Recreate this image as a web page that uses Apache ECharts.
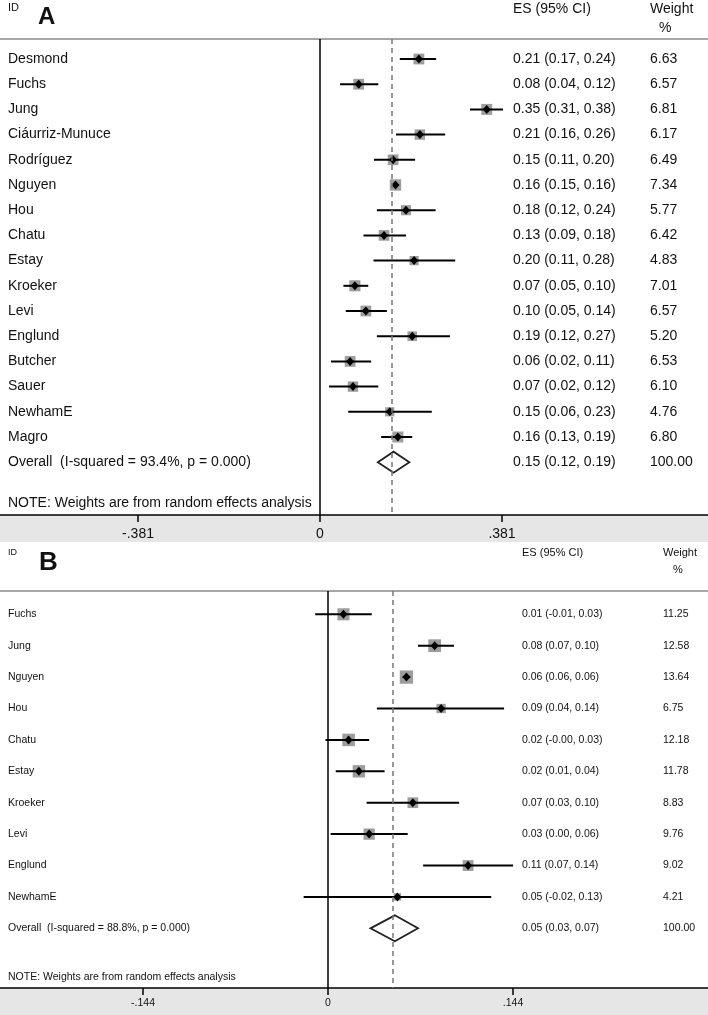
<!DOCTYPE html>
<html>
<head>
<meta charset="utf-8">
<script src="https://cdn.jsdelivr.net/npm/echarts@6/dist/echarts.min.js"></script>
<style>
  html, body { margin: 0; padding: 0; background: #fff; }
  #chart { width: 708px; height: 1015px; }
</style>
</head>
<body>
<div id="chart"></div>
<script>
// Panel A data
const namesA = ['Desmond', 'Fuchs', 'Jung', 'Ciáurriz-Munuce', 'Rodríguez', 'Nguyen', 'Hou', 'Chatu', 'Estay',
  'Kroeker', 'Levi', 'Englund', 'Butcher', 'Sauer', 'NewhamE', 'Magro', 'Overall  (I-squared = 93.4%, p = 0.000)']
const esA = [0.207, 0.081, 0.349, 0.209, 0.153, 0.158, 0.180, 0.134, 0.197, 0.073, 0.096, 0.193, 0.063, 0.069, 0.146, 0.163, 0.154]
const loA = [0.167, 0.042, 0.314, 0.159, 0.113, 0.152, 0.119, 0.091, 0.112, 0.049, 0.054, 0.119, 0.023, 0.019, 0.059, 0.128, 0.121]
const hiA = [0.243, 0.122, 0.383, 0.262, 0.199, 0.164, 0.242, 0.180, 0.283, 0.101, 0.140, 0.272, 0.107, 0.122, 0.234, 0.193, 0.187]
const wA = [6.63, 6.57, 6.81, 6.17, 6.49, 7.34, 5.77, 6.42, 4.83, 7.01, 6.57, 5.20, 6.53, 6.10, 4.76, 6.80, 100]
const ticksA = [-0.381, 0, 0.381]

// Panel B data
const namesB = ['Fuchs', 'Jung', 'Nguyen', 'Hou', 'Chatu', 'Estay', 'Kroeker', 'Levi', 'Englund', 'NewhamE',
  'Overall  (I-squared = 88.8%, p = 0.000)']
const esB = [0.012, 0.083, 0.061, 0.088, 0.016, 0.024, 0.066, 0.032, 0.109, 0.054, 0.052]
const loB = [-0.010, 0.070, 0.058, 0.038, -0.002, 0.006, 0.030, 0.002, 0.074, -0.019, 0.033]
const hiB = [0.034, 0.098, 0.064, 0.137, 0.032, 0.044, 0.102, 0.062, 0.144, 0.127, 0.070]
const wB = [11.25, 12.58, 13.64, 6.75, 12.18, 11.78, 8.83, 9.76, 9.02, 4.21, 100]
const ticksB = [-0.144, 0, 0.144]

const noteText = 'NOTE: Weights are from random effects analysis'
const FONT = '"Liberation Sans", Arial, Helvetica, sans-serif'

const fmtTick = (v) => (v === 0 ? '0' : v.toFixed(3).replace('0.', '.'))
const fmtEs = (e, l, h) => `${e.toFixed(2)} (${l.toFixed(2)}, ${h.toFixed(2)})`

// draws one row: name, square, CI, point (or diamond for overall), ES and weight columns
const makeRender = (cfg) => (params, api) => {
  const i = params.dataIndex
  const row = api.value(0)
  const es = api.value(1)
  const lo = api.value(2)
  const hi = api.value(3)
  const w = api.value(4)
  const c = api.coord([es, row])
  const pl = api.coord([lo, row])
  const ph = api.coord([hi, row])
  const font = `${cfg.fontSize}px ${FONT}`
  const kids = []
  const overall = i === cfg.names.length - 1

  if (overall) {
    kids.push({
      type: 'polygon',
      shape: { points: [[pl[0], c[1]], [c[0], c[1] - cfg.dh], [ph[0], c[1]], [c[0], c[1] + cfg.dh]] },
      style: { fill: '#fff', stroke: '#222', lineWidth: 1.8 },
    })
  } else {
    const s = cfg.k * Math.sqrt(w)
    kids.push({
      type: 'rect',
      shape: { x: c[0] - s / 2, y: c[1] - s / 2, width: s, height: s },
      style: { fill: '#9d9d9d' },
    })
    kids.push({
      type: 'line',
      shape: { x1: pl[0], y1: c[1], x2: ph[0], y2: c[1] },
      style: { stroke: '#000', lineWidth: 2 },
    })
    kids.push({
      type: 'polygon',
      shape: { points: [[c[0], c[1] - 4.5], [c[0] + 4, c[1]], [c[0], c[1] + 4.5], [c[0] - 4, c[1]]] },
      style: { fill: '#000' },
    })
  }
  const txt = (x, text) => ({
    type: 'text',
    x: x,
    y: c[1],
    style: { text, font, fill: '#111', verticalAlign: 'middle', align: 'left' },
  })
  kids.push(txt(8, cfg.names[i]))
  kids.push(txt(cfg.esX, fmtEs(es, lo, hi)))
  kids.push(txt(cfg.wX, w.toFixed(2)))
  return { type: 'group', children: kids }
}

const rows = (es, lo, hi, w) => es.map((e, i) => [i, e, lo[i], hi[i], w[i]])

const chart = echarts.init(document.getElementById('chart'))

const bottomAxis = (grid, min, max, ticks, fontSize, margin) => ({
  type: 'value',
  gridIndex: grid,
  min,
  max,
  position: 'bottom',
  axisLine: { show: true, onZero: false, lineStyle: { color: '#000', width: 1.5 } },
  axisTick: { show: true, customValues: ticks, length: 7, lineStyle: { color: '#000', width: 1.5 } },
  axisLabel: { customValues: ticks, formatter: fmtTick, color: '#111', fontSize, fontFamily: FONT, margin },
  splitLine: { show: false },
})
const topAxis = (grid, min, max) => ({
  type: 'value',
  gridIndex: grid,
  min,
  max,
  position: 'top',
  axisLine: { show: true, onZero: false, lineStyle: { color: '#8a8a8a', width: 1.5 } },
  axisTick: { show: false },
  axisLabel: { show: false },
  splitLine: { show: false },
})
const refLines = (overallEs) => ({
  silent: true,
  symbol: ['none', 'none'],
  label: { show: false },
  data: [
    { xAxis: 0, lineStyle: { color: '#000', width: 1.5, type: 'solid' } },
    { xAxis: overallEs, lineStyle: { color: '#777', width: 1.5, type: [5, 4] } },
  ],
})

const hText = (x, y, text, size, bold) => ({
  type: 'text',
  x,
  y,
  z: 10,
  style: {
    text,
    font: `${bold ? 'bold ' : ''}${size}px ${FONT}`,
    fill: '#111',
    verticalAlign: 'middle',
    align: 'left',
  },
})

const option = {
  backgroundColor: '#fff',
  animation: false,
  grid: [
    { left: 0, right: 0, top: 39, bottom: 500 },
    { left: 0, right: 0, top: 591, bottom: 27 },
  ],
  xAxis: [
    bottomAxis(0, -0.6699, 0.8122, ticksA, 14, 12),
    topAxis(0, -0.6699, 0.8122),
    bottomAxis(1, -0.2553, 0.2957, ticksB, 10.5, 10),
    topAxis(1, -0.2553, 0.2957),
  ],
  yAxis: [
    { type: 'value', gridIndex: 0, inverse: true, min: -0.794, max: 18.095, show: false },
    { type: 'value', gridIndex: 1, inverse: true, min: -0.742, max: 11.9, show: false },
  ],
  graphic: {
    elements: [
      { type: 'rect', z: -10, shape: { x: 0, y: 515, width: 708, height: 27 }, style: { fill: '#e6e6e6' } },
      { type: 'rect', z: -10, shape: { x: 0, y: 988, width: 708, height: 27 }, style: { fill: '#e6e6e6' } },
      hText(8, 8, 'ID', 11),
      hText(38, 17, 'A', 24, true),
      hText(513, 9, 'ES (95% CI)', 14),
      hText(650, 9, 'Weight', 14),
      hText(659, 28, '%', 14),
      hText(8, 503, noteText, 14),
      hText(8, 553, 'ID', 9),
      hText(39, 563, 'B', 26, true),
      hText(522, 553, 'ES (95% CI)', 11),
      hText(663, 553, 'Weight', 11),
      hText(673, 570, '%', 11),
      hText(8, 977, noteText, 10.5),
    ],
  },
  series: [
    {
      type: 'custom',
      xAxisIndex: 0,
      yAxisIndex: 0,
      renderItem: makeRender({ names: namesA, fontSize: 14, esX: 513, wX: 650, k: 4.2, dh: 10.5 }),
      data: rows(esA, loA, hiA, wA),
      markLine: refLines(esA[esA.length - 1]),
      clip: false,
    },
    {
      type: 'custom',
      xAxisIndex: 2,
      yAxisIndex: 1,
      renderItem: makeRender({ names: namesB, fontSize: 10.5, esX: 522, wX: 663, k: 3.6, dh: 13 }),
      data: rows(esB, loB, hiB, wB),
      markLine: refLines(esB[esB.length - 1]),
      clip: false,
    },
  ],
}

chart.setOption(option)
</script>
</body>
</html>
